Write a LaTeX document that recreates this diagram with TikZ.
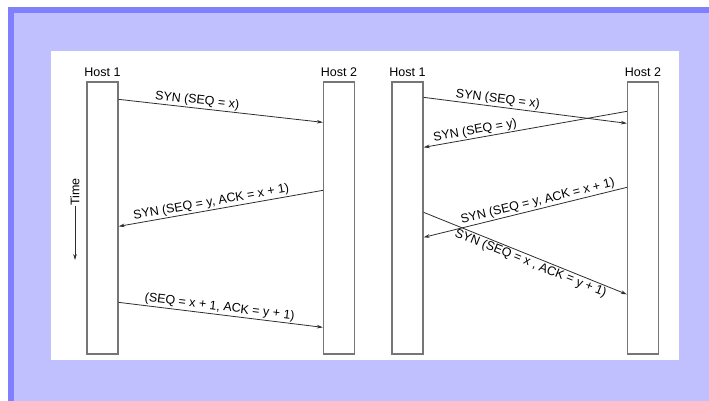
\documentclass[tikz,border=0pt]{standalone}
\usepackage{fontspec}
\setmainfont{Liberation Sans}
\usetikzlibrary{arrows.meta,calc}
\definecolor{frameblue}{HTML}{8080FF}
\definecolor{panelblue}{HTML}{C0C0FF}
\definecolor{boxgray}{HTML}{767676}
\definecolor{msgline}{HTML}{2E2E2E}
\begin{document}
\begin{tikzpicture}[x=1pt,y=-1pt,
  hostbox/.style={draw=boxgray,line width=1.3pt,fill=white,rectangle,
    minimum width=31pt,minimum height=272pt,inner sep=0pt},
  hostlabel/.style={font=\fontsize{12.5}{14}\selectfont,anchor=base,inner sep=0pt},
  msg/.style={draw=msgline,line width=0.8pt,-{Stealth[length=6pt,width=3.6pt]}},
  rmsg/.style={draw=msgline,line width=0.8pt,{Stealth[length=6pt,width=3.6pt]}-},
  msglabel/.style={font=\fontsize{12.5}{14}\selectfont,sloped,inner sep=1.2pt}]
% page and frame
\useasboundingbox (0,0) rectangle (709,401);
\clip (0,0) rectangle (709,401);
\fill[white] (0,0) rectangle (709,401);
\draw[frameblue,line width=6pt,fill=panelblue] (11,10) rectangle (730,420);
\fill[white] (51,51) rectangle (679,360);

% hosts
\node[hostbox] (h1L) at (102.5,218) {};
\node[hostbox] (h2L) at (339,218) {};
\node[hostbox] (h1R) at (407.5,218) {};
\node[hostbox] (h2R) at (643,218) {};
\node[hostlabel] (t1L) at ($(h1L.north)+(0,-5)$) {Host 1};
\node[hostlabel] (t2L) at ($(h2L.north)+(0,-5)$) {Host 2};
\node[hostlabel] (t1R) at ($(h1R.north)+(0,-5)$) {Host 1};
\node[hostlabel] (t2R) at ($(h2R.north)+(0,-5)$) {Host 2};

% time axis
\node[font=\fontsize{12.5}{14}\selectfont,rotate=90,inner sep=0.5pt] (time) at (75,192) {Time};
\coordinate (timeend) at (75,260);
\draw[msg] (time.west) -- (timeend);

% three-way handshake
\draw[msg] ($(h1L.north east)+(0,18)$) --
  node[msglabel,above,pos=0.38] {SYN (SEQ = x)} ($(h2L.north west)+(0,41)$);
\draw[rmsg] ($(h1L.north east)+(0,145)$) --
  node[msglabel,above,pos=0.46] {SYN (SEQ = y, ACK = x + 1)} ($(h2L.north west)+(0,109)$);
\draw[msg] ($(h1L.north east)+(0,221)$) --
  node[msglabel,above,pos=0.49] {(SEQ = x + 1, ACK = y + 1)} ($(h2L.north west)+(0,246)$);

% simultaneous open
\draw[msg] ($(h1R.north east)+(0,16)$) --
  node[msglabel,above,pos=0.36] {SYN (SEQ = x)} ($(h2R.north west)+(0,42)$);
\draw[rmsg] ($(h1R.north east)+(0,66)$) --
  node[msglabel,above,pos=0.26] {SYN (SEQ = y)} ($(h2R.north west)+(0,30)$);
\draw[rmsg] ($(h1R.north east)+(0,156)$) --
  node[msglabel,above,pos=0.57] {SYN (SEQ = y, ACK = x + 1)} ($(h2R.north west)+(0,106)$);
\draw[msg] ($(h1R.north east)+(0,131)$) --
  node[msglabel,below,pos=0.54] {SYN (SEQ = x , ACK = y + 1)} ($(h2R.north west)+(0,213)$);
\end{tikzpicture}
\end{document}
